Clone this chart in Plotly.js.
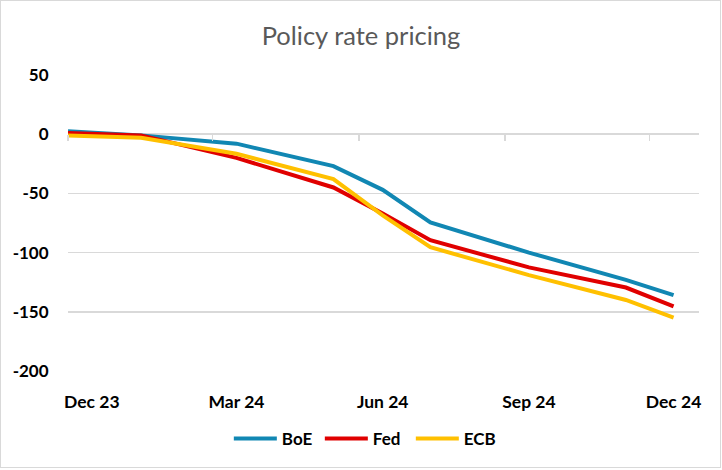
<!DOCTYPE html>
<html>
<head>
<meta charset="utf-8">
<script src="https://cdn.plot.ly/plotly-3.0.1.min.js"></script>
<style>
  html, body { margin: 0; padding: 0; background: #fff; }
  #wrap { position: relative; width: 722px; height: 470px; }
  #chart { width: 722px; height: 470px; }
  #frame { position: absolute; left: 0; top: 0; width: 719px; height: 466px;
           border: 1.5px solid #d9d9d9; pointer-events: none; }
</style>
</head>
<body>
<div id="wrap"><div id="chart"></div><div id="frame"></div></div>
<script>
const dates = ["2023-12-01", "2024-01-16", "2024-03-16", "2024-05-16", "2024-06-16",
               "2024-07-16", "2024-09-16", "2024-11-16", "2024-12-16"];
const boe = [2.5, -1, -8, -27, -47, -74.5, -100, -123, -136];
const fed = [1, -1, -20, -45, -67, -89.5, -112.5, -129.5, -145.5];
const ecb = [-1, -3, -16.5, -38, -68.5, -95.5, -119, -140, -155];

const tickLabelDates = ["2023-12-16", "2024-03-16", "2024-06-16", "2024-09-16", "2024-12-16"];
const tickLabels = ["Dec 23", "Mar 24", "Jun 24", "Sep 24", "Dec 24"];
const tickMarkDates = ["2023-12-01", "2024-03-01", "2024-06-01", "2024-09-01", "2024-12-01"];
const yTicks = [50, 0, -50, -100, -150, -200];
const yTickLabels = ["50", "0", "-50", "-100", "-150", "-200"];

const xRange = ["2023-12-01", "2025-01-01"];
const font = "Lato, 'Open Sans', sans-serif";

const traces = [
  {x: dates, y: boe, name: "BoE", type: "scatter", mode: "lines",
   line: {color: "#1187b3", width: 4}},
  {x: dates, y: fed, name: "Fed", type: "scatter", mode: "lines",
   line: {color: "#e00000", width: 4}},
  {x: dates, y: ecb, name: "ECB", type: "scatter", mode: "lines",
   line: {color: "#ffc000", width: 4}},
  {x: [xRange[0]], y: [null], xaxis: "x2", showlegend: false, hoverinfo: "skip",
   type: "scatter", mode: "lines"}
];

const layout = {
  width: 722, height: 470,
  margin: {l: 68, r: 23, t: 75, b: 99},
  paper_bgcolor: "#ffffff", plot_bgcolor: "#ffffff",
  font: {family: font, color: "#000"},
  title: {text: "Policy rate pricing", x: 0.5, xref: "container", xanchor: "center",
          y: 1 - 36 / 470, yref: "container", yanchor: "middle",
          font: {family: font, size: 25.5, color: "#595959"}},
  xaxis: {type: "date", range: xRange, showgrid: false, zeroline: false, showline: false,
          tickmode: "array", tickvals: tickLabelDates, ticktext: tickLabels,
          ticks: "outside", ticklen: 15, tickcolor: "rgba(0,0,0,0)",
          tickfont: {family: font, size: 17.5, color: "#000", weight: "bold"}},
  xaxis2: {type: "date", range: xRange, overlaying: "x", anchor: "free", position: 0.8,
           showgrid: false, zeroline: false, showline: false, showticklabels: false,
           tickmode: "array", tickvals: tickMarkDates,
           ticks: "outside", ticklen: 6, tickwidth: 1.5, tickcolor: "#d9d9d9"},
  yaxis: {range: [-200, 50], tickmode: "array", tickvals: yTicks, ticktext: yTickLabels,
          showgrid: true, gridcolor: "#d9d9d9", gridwidth: 1.5,
          zeroline: false, showline: false,
          ticks: "outside", ticklen: 15, tickcolor: "rgba(0,0,0,0)",
          tickfont: {family: font, size: 17, color: "#000", weight: "bold"}},
  legend: {orientation: "h", xref: "container", x: 0.506, xanchor: "center",
           yref: "container", y: 1 - 439 / 470, yanchor: "middle",
           font: {family: font, size: 17, color: "#000", weight: "bold"},
           itemwidth: 43, entrywidth: 33, entrywidthmode: "pixels", tracegroupgap: 0}
};

Plotly.newPlot("chart", traces, layout, {displayModeBar: false, staticPlot: true});
</script>
</body>
</html>
